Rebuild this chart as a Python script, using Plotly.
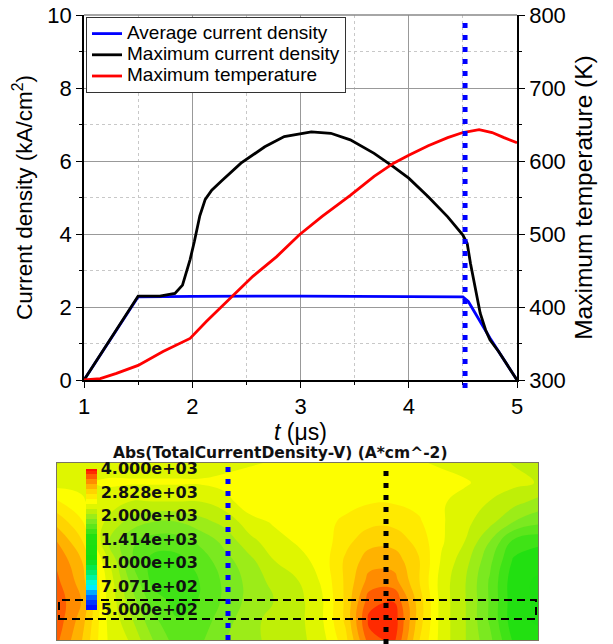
import numpy as np
import plotly.graph_objects as go

# ---- top panel data ----
t_avg = [1.0, 1.5, 2.0, 2.5, 3.0, 3.5, 4.0, 4.5, 4.55, 4.75, 5.0]
j_avg = [0.0, 2.28, 2.29, 2.30, 2.30, 2.29, 2.28, 2.28, 2.15, 1.15, 0.0]

t_max = [1.0, 1.5, 1.7, 1.84, 1.91, 1.98, 2.02, 2.07, 2.12, 2.18, 2.27, 2.45, 2.67, 2.85,
         3.1, 3.28, 3.46, 3.68, 3.86, 4.0, 4.18, 4.36, 4.5, 4.54, 4.57, 4.62, 4.66,
         4.71, 4.75, 4.83, 4.92, 5.0]
j_max = [0.0, 2.3, 2.3, 2.37, 2.6, 3.3, 3.8, 4.5, 4.95, 5.2, 5.45, 5.94, 6.39, 6.67,
         6.8, 6.76, 6.58, 6.21, 5.84, 5.53, 5.02, 4.47, 3.97, 3.74, 3.2, 2.47, 1.83,
         1.37, 1.1, 0.78, 0.37, 0.0]

t_temp = [1.0, 1.15, 1.3, 1.5, 1.73, 1.98, 2.13, 2.34, 2.56, 2.78, 2.99, 3.2, 3.46,
          3.68, 3.86, 4.0, 4.18, 4.36, 4.5, 4.65, 4.77, 4.88, 5.0]
temp = [300, 302, 309, 320, 339, 357, 380, 410, 442, 469, 499, 524, 553,
        579, 597, 608, 621, 632, 639, 643, 639, 632, 625]

t_marker = 4.52

# ---- bottom panel: |J| map (A/cm^2), rows top -> bottom ----
jmap = [
    [2200, 2250, 2300, 2300, 2300, 2300, 2300, 2300, 2350, 2400, 2400, 2400, 2400, 2400, 2400, 2400, 2350, 2300, 2250, 2200, 2200],
    [2300, 2350, 2400, 2400, 2400, 2400, 2400, 2450, 2500, 2500, 2500, 2500, 2500, 2500, 2500, 2500, 2450, 2400, 2300, 2250, 2200],
    [2600, 2400, 2300, 2200, 2200, 2200, 2200, 2300, 2500, 2500, 2500, 2500, 2500, 2550, 2550, 2500, 2400, 2300, 2200, 2100, 2000],
    [2900, 2600, 2200, 2000, 1900, 1900, 2000, 2100, 2300, 2400, 2450, 2500, 2600, 2700, 2700, 2600, 2400, 2250, 2100, 1900, 1800],
    [3200, 2800, 2100, 1800, 1700, 1700, 1800, 1950, 2150, 2300, 2400, 2450, 2700, 2900, 2900, 2700, 2400, 2200, 1900, 1600, 1550],
    [3400, 3000, 2300, 1800, 1600, 1600, 1700, 1850, 2000, 2200, 2300, 2450, 2800, 3100, 3100, 2800, 2350, 2100, 1800, 1500, 1450],
    [3500, 3100, 2400, 1900, 1600, 1550, 1650, 1800, 1950, 2100, 2200, 2400, 2800, 3300, 3300, 2800, 2300, 2050, 1750, 1450, 1400],
    [3600, 3200, 2400, 2000, 1700, 1600, 1650, 1800, 1950, 2050, 2150, 2350, 2800, 3600, 3700, 2900, 2300, 2050, 1750, 1450, 1400],
    [3600, 3100, 2400, 2100, 1800, 1650, 1700, 1850, 2000, 2100, 2150, 2350, 2800, 3800, 3900, 2900, 2300, 2050, 1750, 1450, 1400],
    [3500, 3000, 2400, 2200, 1900, 1700, 1750, 1900, 2000, 2100, 2150, 2300, 2700, 3600, 3800, 2800, 2300, 2050, 1800, 1500, 1450],
]
cb_vals = [4000, 2828, 2000, 1414, 1000, 707.1, 500]
cb_text = ["4.000e+03", "2.828e+03", "2.000e+03", "1.414e+03", "1.000e+03", "7.071e+02", "5.000e+02"]

W, H = 613, 644


def px(x):
    return x / W


def py(y):
    return (H - y) / H


def big(name):
    # legend rows are spaced by the legend font size; the visible text is larger
    return '<span style="font-size:19px">' + name + '</span>'


fig = go.Figure()

fig.add_trace(go.Scatter(x=t_avg, y=j_avg, mode="lines", name=big("Average current density"),
                         line=dict(color="#0000ff", width=2.8)))
fig.add_trace(go.Scatter(x=t_max, y=j_max, mode="lines", name=big("Maximum current density"),
                         line=dict(color="#000000", width=2.8)))
fig.add_trace(go.Scatter(x=t_temp, y=temp, mode="lines", name=big("Maximum temperature"),
                         line=dict(color="#ff0000", width=2.8), yaxis="y2"))

zlog = np.log10(np.array(jmap, dtype=float))
lo, hi = np.log10(500), np.log10(4000)
cscale = [[0, "#0000ff"], [0.08, "#0050ff"], [0.17, "#00ffff"], [0.26, "#00ee77"],
          [0.36, "#10dd10"], [0.52, "#22e011"], [0.64, "#88ea22"], [0.71, "#ccf000"],
          [0.77, "#ffff00"], [0.84, "#ffd400"], [0.9, "#ff9a00"], [0.96, "#ff4a00"],
          [1, "#ff1000"]]
cb_font = dict(family="DejaVu Sans", size=16, color="#111111", weight="bold")
fig.add_trace(go.Contour(
    z=zlog, x=list(range(21)), y=list(range(10)), xaxis="x3", yaxis="y3",
    colorscale=cscale, zmin=lo, zmax=hi, showlegend=False, hoverinfo="skip",
    contours=dict(coloring="fill", start=lo, end=hi, size=(hi - lo) / 28, showlines=False),
    line=dict(width=0, smoothing=1.3),
    colorbar=dict(x=px(86), xanchor="left", y=py(539), yanchor="middle",
                  thickness=11, thicknessmode="pixels", len=141, lenmode="pixels",
                  outlinewidth=0, xpad=0, ypad=0, ticks="", ticklabelposition="outside",
                  tickvals=list(np.log10(cb_vals)), ticktext=cb_text, tickfont=cb_font),
))

tick_font = dict(family="Liberation Sans, Arial", size=22, color="#000")
grid_minor = dict(showgrid=True, gridcolor="#c8c8c8", griddash="dot", gridwidth=1,
                  ticks="outside", ticklen=3, tickcolor="#000")


def tfont(size):
    return dict(family="Liberation Sans, Arial", size=size, color="#000")


fig.update_layout(
    width=W, height=H, margin=dict(l=0, r=0, t=0, b=0, autoexpand=False),
    paper_bgcolor="white", plot_bgcolor="white",
    showlegend=True,
    legend=dict(x=px(86), y=py(17), xanchor="left", yanchor="top",
                bgcolor="white", bordercolor="#333", borderwidth=1,
                font=dict(family="Liberation Sans, Arial", size=14, color="#000"),
                tracegroupgap=0),
    xaxis=dict(domain=[px(84), px(517)], range=[1, 5], anchor="y",
               tickvals=[1, 2, 3, 4, 5], ticks="outside", ticklen=6, tickcolor="#000",
               showline=True, linecolor="#000", linewidth=1.5,
               showgrid=True, gridcolor="#999", gridwidth=1,
               minor=dict(dtick=0.5, **grid_minor),
               tickfont=tick_font, zeroline=False,
               title=dict(text="<i>t</i> (μs)", font=tfont(23), standoff=0)),
    yaxis=dict(domain=[py(380), py(15)], range=[0, 10], dtick=2, anchor="x",
               ticks="outside", ticklen=6, tickcolor="#000",
               showline=True, linecolor="#000", linewidth=1.5,
               showgrid=True, gridcolor="#999", gridwidth=1,
               minor=dict(dtick=1, **grid_minor),
               tickfont=tick_font, zeroline=False,
               title=dict(text="Current density (kA/cm<sup>2</sup>)", font=tfont(22.5), standoff=8)),
    yaxis2=dict(range=[300, 800], dtick=100, overlaying="y", side="right", anchor="x",
                ticks="outside", ticklen=6, tickcolor="#000",
                showline=True, linecolor="#000", linewidth=1.5, showgrid=False,
                minor=dict(dtick=50, ticks="outside", ticklen=3, tickcolor="#000"),
                tickfont=tick_font, zeroline=False,
                title=dict(text="Maximum temperature (K)", font=tfont(24.5), standoff=10)),
    xaxis3=dict(domain=[px(57), px(538)], range=[0, 20], anchor="y3",
                showticklabels=False, ticks="", showgrid=False, zeroline=False,
                showline=True, linecolor="#7a7560", linewidth=1, mirror=True),
    yaxis3=dict(domain=[py(640), py(463)], range=[9, 0], anchor="x3",
                showticklabels=False, ticks="", showgrid=False, zeroline=False,
                showline=True, linecolor="#7a7560", linewidth=1, mirror=True),
)

# top panel: gray frame on top edge
fig.add_shape(type="line", xref="paper", yref="paper", x0=px(84), x1=px(517),
              y0=py(15), y1=py(15), line=dict(color="#888", width=1.5))

# marker line in top panel
fig.add_shape(type="line", xref="x", yref="paper", x0=t_marker, x1=t_marker,
              y0=py(388), y1=py(20), line=dict(color="#0000ff", width=5, dash="5px,7px"))

# bottom panel overlays
fig.add_shape(type="rect", xref="paper", yref="paper", x0=px(59), x1=px(536),
              y0=py(619), y1=py(600), line=dict(color="#000", width=2, dash="8px,5px"))
fig.add_shape(type="line", xref="paper", yref="paper", x0=px(228), x1=px(228),
              y0=py(640), y1=py(463), line=dict(color="#0000ff", width=5, dash="5px,7px"))
fig.add_shape(type="line", xref="paper", yref="paper", x0=px(386), x1=px(386),
              y0=py(644), y1=py(468), line=dict(color="#000", width=5, dash="5px,7px"))

fig.add_annotation(text="Abs(TotalCurrentDensity-V) (A*cm^-2)", xref="paper", yref="paper",
                   x=px(280), y=py(452.5), xanchor="center", yanchor="middle", showarrow=False,
                   font=dict(family="DejaVu Sans", size=15.5, color="#111", weight="bold"))

# page has a default 8px body margin; drop it so the figure fills the window
fig.write_html("out.html", config={"displayModeBar": False},
               post_script="document.body.style.margin='0px';")
